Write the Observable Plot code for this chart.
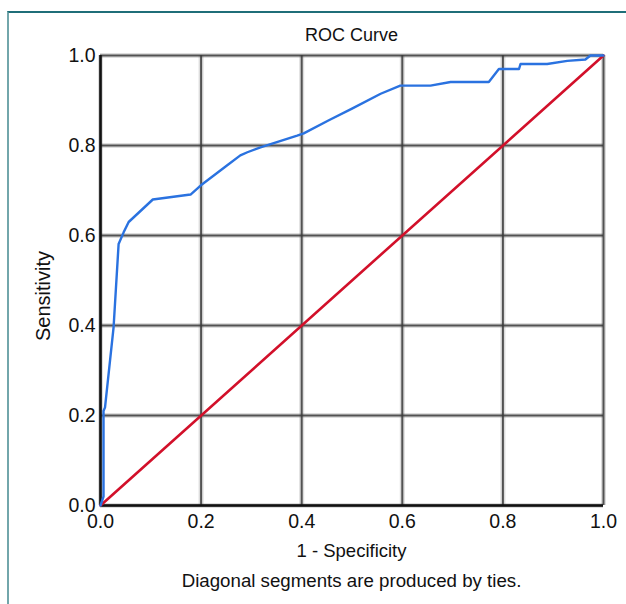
<!DOCTYPE html>
<html><head><meta charset="utf-8">
<script src="https://cdn.jsdelivr.net/npm/d3@7"></script>
<script src="https://cdn.jsdelivr.net/npm/@observablehq/plot@0.6"></script>
<style>
body{margin:0;background:#fff;font-family:"Liberation Sans",Arial,sans-serif;color:#111;}
#wrap{position:relative;width:626px;height:604px;overflow:hidden;background:#fff;}
#frame{position:absolute;left:7px;top:11px;right:-5px;bottom:-5px;border-top:2px solid #1f6e78;border-left:2px solid #72a6ab;}
.t{position:absolute;left:0;width:703px;text-align:center;font-size:18px;line-height:20px;white-space:nowrap;}
#ylab{position:absolute;left:-57px;top:285px;width:200px;height:22px;line-height:22px;text-align:center;font-size:20px;transform:rotate(-90deg);}
#chart{position:absolute;left:0;top:0;}
</style></head>
<body><div id="wrap"><div id="frame"></div><div id="chart"></div>
<div class="t" style="top:25px">ROC Curve</div>
<div class="t" style="top:541px;font-size:18.5px">1 - Specificity</div>
<div class="t" style="top:571px;font-size:18.7px">Diagonal segments are produced by ties.</div>
<div id="ylab">Sensitivity</div>
</div>
<script>
const fpr = [0, 0.006, 0.006, 0.009, 0.026, 0.036, 0.046, 0.056, 0.080, 0.104, 0.179, 0.199, 0.252, 0.278, 0.292, 0.318, 0.391, 0.404, 0.454, 0.500, 0.557, 0.596, 0.656, 0.696, 0.772, 0.792, 0.832, 0.835, 0.888, 0.928, 0.964, 0.974, 1.0];
const tpr = [0, 0.02, 0.21, 0.218, 0.396, 0.581, 0.607, 0.63, 0.655, 0.68, 0.691, 0.711, 0.756, 0.778, 0.785, 0.796, 0.822, 0.827, 0.856, 0.882, 0.915, 0.933, 0.933, 0.941, 0.941, 0.97, 0.97, 0.981, 0.981, 0.988, 0.991, 1.0, 1.0];
const diagX = [0, 1];
const diagY = [0, 1];
const ticks = [0, 0.2, 0.4, 0.6, 0.8, 1.0];

const curve = fpr.map((x, i) => ({x, y: tpr[i]}));
const diag = diagX.map((x, i) => ({x, y: diagY[i]}));

const chart = Plot.plot({
  width: 626, height: 540,
  marginTop: 55, marginBottom: 35, marginLeft: 100, marginRight: 23,
  style: {fontFamily: "Liberation Sans, Arial, sans-serif", background: "transparent"},
  x: {domain: [0, 1]},
  y: {domain: [0, 1]},
  marks: [
    Plot.ruleX(ticks, {y1: 0, y2: 1, stroke: "#555", strokeWidth: 5, strokeOpacity: 0.2}),
    Plot.ruleY(ticks, {x1: 0, x2: 1, stroke: "#555", strokeWidth: 5, strokeOpacity: 0.2}),
    Plot.ruleX(ticks, {y1: 0, y2: 1, stroke: "#3a3a3a", strokeWidth: 2, strokeOpacity: 0.85}),
    Plot.ruleY(ticks, {x1: 0, x2: 1, stroke: "#3a3a3a", strokeWidth: 2, strokeOpacity: 0.85}),
    Plot.ruleX([0], {y1: 0, y2: 1, stroke: "#111", strokeWidth: 2.5}),
    Plot.ruleY([0], {x1: 0, x2: 1, stroke: "#111", strokeWidth: 2.5}),
    Plot.axisX({ticks, tickFormat: d3.format(".1f"), tickSize: 0, tickPadding: 9, fontSize: 19.5, fill: "#111", label: null}),
    Plot.axisY({ticks, tickFormat: d3.format(".1f"), tickSize: 0, tickPadding: 5, fontSize: 19.5, fill: "#111", label: null}),
    Plot.line(diag, {x: "x", y: "y", stroke: "#d2102a", strokeWidth: 2.6}),
    Plot.line(curve, {x: "x", y: "y", stroke: "#2a72e0", strokeWidth: 2.4, strokeLinejoin: "round"})
  ]
});
document.getElementById("chart").appendChild(chart);
</script>
</body></html>
